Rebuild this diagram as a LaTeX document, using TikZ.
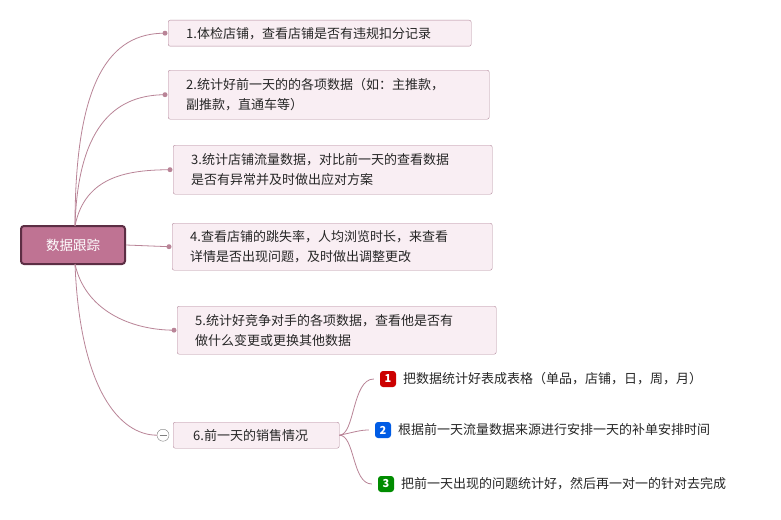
\documentclass[tikz,border=0pt]{standalone}
\usepackage{fontspec}
\setmainfont{Noto Sans CJK SC}
\begin{document}
\begin{tikzpicture}[x=1pt,y=-1pt,
  box/.style={draw=boxline,fill=boxfill,rounded corners=2pt,inner sep=0pt,anchor=north west,font=\fontsize{13}{20}\selectfont,align=left,text=black!85},
  conn/.style={draw=linec,line width=0.8pt},
  dot/.style={circle,fill=linec,inner sep=0pt,minimum size=5pt},
  icon/.style={rounded corners=3pt,minimum size=16pt,inner sep=0pt,text=white,font=\bfseries\itshape\fontsize{11}{11}\selectfont},
  sub/.style={anchor=west,font=\fontsize{13}{15}\selectfont,text=black!85,inner sep=0pt}]
\definecolor{boxline}{HTML}{B48A9C}
\definecolor{boxfill}{HTML}{F9EEF3}
\definecolor{linec}{HTML}{B98497}
\definecolor{rootfill}{HTML}{BF7393}
\definecolor{rootline}{HTML}{5C2E44}
\useasboundingbox (0,0) rectangle (781,519);
\fill[white] (0,0) rectangle (781,519);
\node[draw=rootline,line width=2pt,fill=rootfill,rounded corners=3pt,minimum width=104pt,minimum height=38pt,text=white,font=\fontsize{13.5}{14}\selectfont] (root) at (73,245) {数据跟踪};
\node[box,minimum width=303pt,minimum height=26pt,text width=303pt] (b1) at (168,20) {\hspace*{18pt}1.体检店铺，查看店铺是否有违规扣分记录};
\node[box,minimum width=321pt,minimum height=49pt,text width=321pt] (b2) at (168,70) {\hspace*{18pt}2.统计好前一天的的各项数据（如：主推款，\\\hspace*{18pt}副推款，直通车等）};
\node[box,minimum width=319pt,minimum height=49pt,text width=319pt] (b3) at (173,145) {\hspace*{18pt}3.统计店铺流量数据，对比前一天的查看数据\\\hspace*{18pt}是否有异常并及时做出应对方案};
\node[box,minimum width=320pt,minimum height=47pt,text width=320pt] (b4) at (172,223) {\hspace*{18pt}4.查看店铺的跳失率，人均浏览时长，来查看\\\hspace*{18pt}详情是否出现问题，及时做出调整更改};
\node[box,minimum width=319pt,minimum height=48pt,text width=319pt] (b5) at (177,306) {\hspace*{18pt}5.统计好竞争对手的各项数据，查看他是否有\\\hspace*{18pt}做什么变更或更换其他数据};
\node[box,minimum width=166pt,minimum height=26pt,text width=166pt] (b6) at (173,422) {\hspace*{20pt}6.前一天的销售情况};
\node[dot] (d1) at ([xshift=-3pt]b1.west) {};
\node[dot] (d2) at ([xshift=-3pt]b2.west) {};
\node[dot] (d3) at ([xshift=-3pt]b3.west) {};
\node[dot] (d4) at ([xshift=-3pt]b4.west) {};
\node[dot] (d5) at ([xshift=-3pt]b5.west) {};
\node[circle,draw=gray,fill=white,inner sep=0pt,minimum size=12pt] (m6) at ([xshift=-10pt]b6.west) {};
\draw[gray] ([xshift=-3.5pt]m6.center) -- ([xshift=3.5pt]m6.center);
\draw[conn] (75,226) .. controls (75,80) and (110,33) .. (d1.center);
\draw[conn] (75,226) .. controls (78,120) and (120,95) .. (d2.center);
\draw[conn] (75,226) .. controls (85,175) and (130,170) .. (d3.center);
\draw[conn] (root.east) -- (d4.center);
\draw[conn] (75,264) .. controls (85,310) and (130,330) .. (d5.center);
\draw[conn] (75,264) .. controls (80,390) and (120,435) .. (m6.west);
\node[icon,fill=red!80!black] (i1) at (388,379) {1};
\node[icon,fill=blue!60!cyan!90!black] (i2) at (383,430) {2};
\node[icon,fill=green!55!black] (i3) at (386,484) {3};
\node[sub] (s1) at (403,379) {把数据统计好表成表格（单品，店铺，日，周，月）};
\node[sub] (s2) at (398,430) {根据前一天流量数据来源进行安排一天的补单安排时间};
\node[sub] (s3) at (401,484) {把前一天出现的问题统计好，然后再一对一的针对去完成};
\draw[conn] (b6.east) .. controls (355,435) and (352,379) .. ([xshift=-6pt]i1.west);
\draw[conn] (b6.east) .. controls (355,432) and (360,430) .. ([xshift=-6pt]i2.west);
\draw[conn] (b6.east) .. controls (355,435) and (352,484) .. ([xshift=-6pt]i3.west);
\end{tikzpicture}
\end{document}
